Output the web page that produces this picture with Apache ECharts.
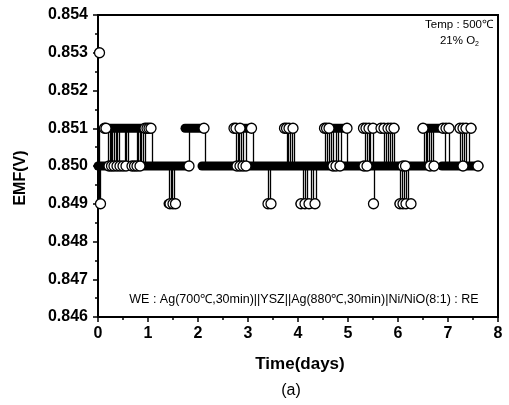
<!DOCTYPE html>
<html>
<head>
<meta charset="utf-8">
<script src="https://cdn.jsdelivr.net/npm/echarts@6/dist/echarts.min.js"></script>
<style>
  html, body { margin: 0; padding: 0; background: #fff; }
  #main { width: 509px; height: 405px; }
</style>
</head>
<body>
<div id="main"></div>
<script>
// EMF levels (V)
var levels = [0.849, 0.850, 0.851, 0.853];

// runs of readings held at one level: [start day, end day]
var runs851 = [[0.12, 1.06], [1.74, 2.12], [2.72, 3.07], [3.72, 3.91], [4.52, 4.98], [5.30, 5.52], [5.64, 5.94], [6.48, 7.02], [7.22, 7.48]];
var runs850 = [[0.00, 1.82], [2.08, 6.70], [6.88, 7.62]];
var runs849 = [[1.40, 1.55], [4.04, 4.34], [6.02, 6.26]];

// switching between 0.850 and 0.851 (days)
var riseTimes = [0.01, 0.20, 0.23, 0.26, 0.28, 0.32, 0.36, 0.38, 0.42, 0.54, 0.56, 0.60,
  0.78, 0.80, 0.83, 0.86, 0.90, 0.93, 1.07, 1.82, 2.14,
  2.76, 2.80, 2.82, 2.86, 2.90, 2.96, 3.10, 3.78, 3.80, 3.84, 3.88, 3.92,
  4.54, 4.58, 4.62, 4.66, 4.70, 4.76, 4.80, 4.86, 4.98,
  5.34, 5.38, 5.41, 5.44, 5.50, 5.72, 5.76, 5.80, 5.84, 5.88, 5.92,
  6.52, 6.55, 6.58, 6.62, 6.66, 6.70, 6.94, 7.02, 7.24, 7.28, 7.32, 7.36, 7.42];

// switching between 0.850 and 0.849 (days)
var dropTimes = [0.02, 0.04, 1.42, 1.45, 1.48, 1.52, 3.40, 3.43,
  4.10, 4.14, 4.18, 4.26, 4.30, 4.36, 5.51, 6.04, 6.08, 6.12, 6.16, 6.20];

// visible open circles (days)
var circles853 = [0.03];
var circles851 = [0.13, 0.16, 0.94, 0.98, 1.02, 1.06, 2.12, 2.72, 2.76, 2.84, 3.07,
  3.73, 3.77, 3.82, 3.90, 4.53, 4.57, 4.62, 4.98, 5.31, 5.36, 5.42, 5.50,
  5.66, 5.72, 5.80, 5.86, 5.92, 6.50, 6.90, 6.96, 7.02, 7.24, 7.30, 7.36, 7.46];
var circles850 = [0.22, 0.27, 0.32, 0.38, 0.44, 0.50, 0.56, 0.68, 0.73, 0.78, 0.84,
  1.82, 2.78, 2.84, 2.90, 2.96, 4.70, 4.76, 4.84, 5.32, 5.38, 6.10, 6.15,
  6.64, 6.72, 7.30, 7.60];
var circles849 = [0.05, 1.44, 1.50, 1.55, 3.40, 3.46, 4.06, 4.14, 4.22, 4.34,
  5.51, 6.04, 6.10, 6.16, 6.26];

var font = '"Liberation Sans", Arial, sans-serif';

function runRows(runs, lvl) {
  return runs.map(function (r) { return [r[0], r[1], lvl]; });
}
var barData = runRows(runs850, levels[1]).concat(runRows(runs851, levels[2]), runRows(runs849, levels[0]));

var vlineData = riseTimes.map(function (t) { return [t, levels[1], levels[2]]; })
  .concat(dropTimes.map(function (t) { return [t, levels[0], levels[1]]; }));

function pts(arr, lvl) {
  return arr.map(function (t) { return [t, lvl]; });
}

var chart = echarts.init(document.getElementById('main'), null, { renderer: 'canvas' });

chart.setOption({
  animation: false,
  backgroundColor: '#fff',
  grid: {
    left: 98, right: 11, top: 15, bottom: 88,
    show: true, borderColor: '#000', borderWidth: 2, backgroundColor: 'transparent'
  },
  xAxis: {
    type: 'value', min: 0, max: 8, interval: 1,
    axisLine: { lineStyle: { color: '#000', width: 2 } },
    axisTick: { inside: false, length: 5, lineStyle: { color: '#000', width: 1.5 } },
    minorTick: { show: true, splitNumber: 2, length: 3, lineStyle: { color: '#000', width: 1.5 } },
    splitLine: { show: false },
    axisLabel: { color: '#000', fontSize: 16, fontWeight: 'bold', fontFamily: font, margin: 9 }
  },
  yAxis: {
    type: 'value', min: 0.846, max: 0.854, interval: 0.001,
    axisLine: { show: true, lineStyle: { color: '#000', width: 2 } },
    axisTick: { show: true, length: 5, lineStyle: { color: '#000', width: 1.5 } },
    minorTick: { show: true, splitNumber: 2, length: 3, lineStyle: { color: '#000', width: 1.5 } },
    splitLine: { show: false },
    axisLabel: {
      color: '#000', fontSize: 16, fontWeight: 'bold', fontFamily: font, margin: 10,
      formatter: function (v) { return v.toFixed(3); }
    }
  },
  graphic: [
    { type: 'text', x: 21, y: 178, rotation: Math.PI / 2,
      style: { text: 'EMF(V)', fill: '#000', font: 'bold 16px ' + font, align: 'center', verticalAlign: 'middle' } },
    { type: 'text', x: 300, y: 364,
      style: { text: 'Time(days)', fill: '#000', font: 'bold 17px ' + font, align: 'center', verticalAlign: 'middle' } },
    { type: 'text', x: 291, y: 391,
      style: { text: '(a)', fill: '#000', font: '16px ' + font, align: 'center', verticalAlign: 'middle' } },
    { type: 'text', x: 493, y: 25,
      style: { text: 'Temp : 500℃', fill: '#000', font: '11.5px ' + font, align: 'right', verticalAlign: 'middle' } },
    { type: 'text', x: 479, y: 41,
      style: {
        text: '{a|21% O}{s|2}', align: 'right', verticalAlign: 'middle',
        rich: { a: { fill: '#000', font: '11.5px ' + font }, s: { fill: '#000', font: '7px ' + font, padding: [7, 0, 0, 0] } }
      } },
    { type: 'text', x: 304, y: 300,
      style: { text: 'WE : Ag(700℃,30min)||YSZ||Ag(880℃,30min)|Ni/NiO(8:1) : RE', fill: '#000',
        font: '12.5px ' + font, align: 'center', verticalAlign: 'middle' } }
  ],
  series: [
    {
      type: 'custom', name: 'switch', z: 2,
      encode: { x: 0, y: [1, 2] },
      data: vlineData,
      renderItem: function (params, api) {
        var a = api.coord([api.value(0), api.value(1)]);
        var b = api.coord([api.value(0), api.value(2)]);
        var x = Math.round(a[0]) + 0.5;
        return { type: 'line', shape: { x1: x, y1: a[1], x2: x, y2: b[1] },
          style: { stroke: '#000', lineWidth: 1.3 } };
      }
    },
    {
      type: 'custom', name: 'runs', z: 3,
      encode: { x: [0, 1], y: 2 },
      data: barData,
      renderItem: function (params, api) {
        var s = api.coord([api.value(0), api.value(2)]);
        var e = api.coord([api.value(1), api.value(2)]);
        return { type: 'rect', shape: { x: s[0] - 4.5, y: s[1] - 4.5, width: e[0] - s[0] + 9, height: 9, r: 4.5 },
          style: { fill: '#000' } };
      }
    },
    {
      type: 'scatter', name: 'EMF', z: 4,
      symbol: 'circle', symbolSize: 10,
      itemStyle: { color: '#fff', borderColor: '#000', borderWidth: 1.3, opacity: 1 },
      data: pts(circles853, levels[3]).concat(pts(circles851, levels[2]), pts(circles850, levels[1]), pts(circles849, levels[0]))
    }
  ]
});
</script>
</body>
</html>
